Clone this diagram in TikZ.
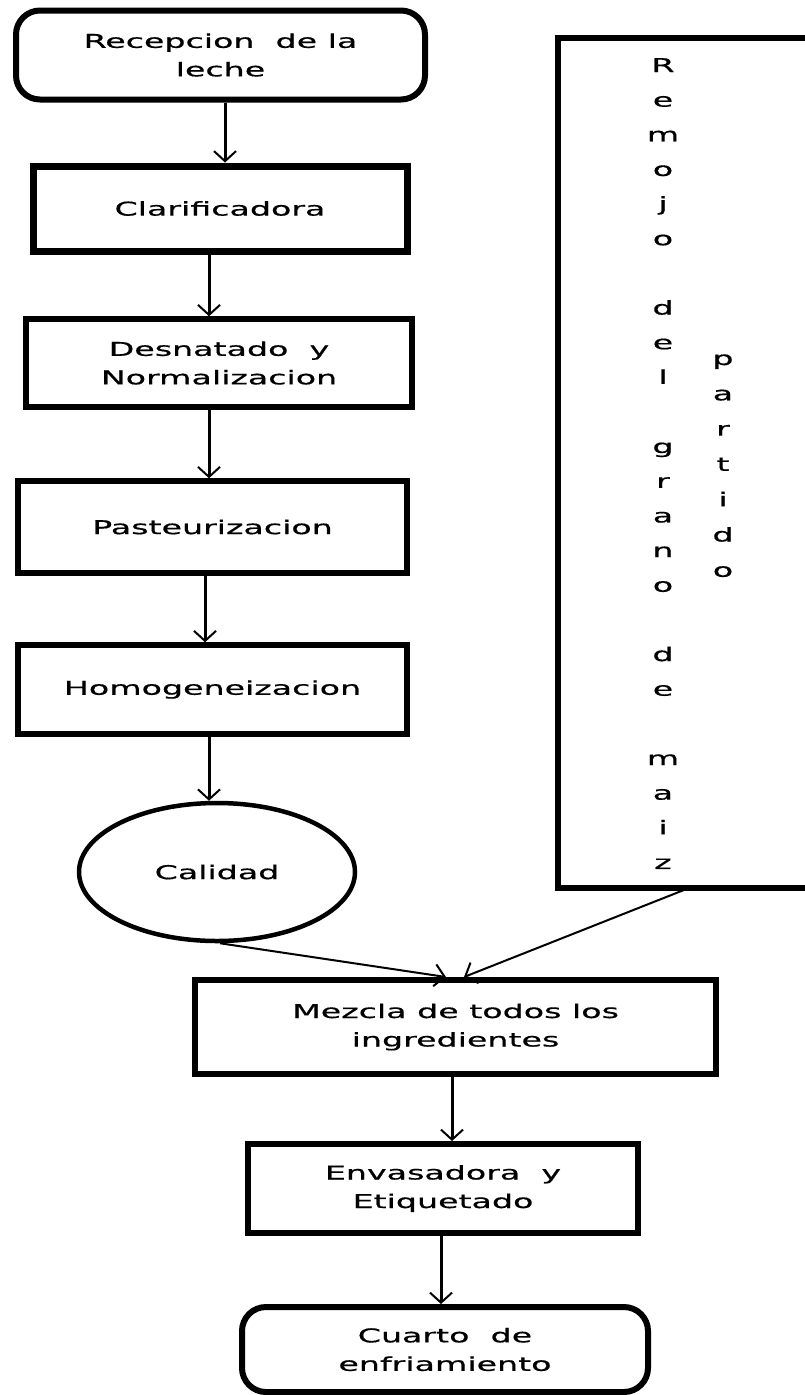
\documentclass[tikz,border=0pt]{standalone}
\usepackage{fontspec}
\setmainfont{DejaVu Sans}[FakeStretch=1.75,FakeBold=0.6]
\usetikzlibrary{arrows.meta,shapes.geometric,calc}
\begin{document}
\begin{tikzpicture}[x=1pt,y=-1pt,
  every node/.style={font=\fontsize{19}{28.5}\selectfont, align=center, inner sep=0pt},
  proc/.style={draw, rectangle, line width=#1},
  term/.style={draw, rectangle, rounded corners=24pt, line width=#1},
  flow/.style={line width=3pt, -{Straight Barb[length=10pt,width=22pt,line width=2pt]}}]
\fill[white] (0,0) rectangle (804,1395);
\useasboundingbox (0,0) rectangle (804,1395);

\node[term=6pt, minimum width=409pt, minimum height=89pt] (rec) at (220.5,55) {Recepcion\ \ de la\\leche};
\node[proc=7pt, minimum width=374pt, minimum height=85pt] (cla) at (220,208.5) {Clarificadora};
\node[proc=5.5pt, minimum width=386pt, minimum height=88pt] (des) at (219,363) {Desnatado\ \ y\\Normalizacion};
\node[proc=5.5pt, minimum width=389pt, minimum height=92pt] (pas) at (212.5,527) {Pasteurizacion};
\node[proc=5.5pt, minimum width=389pt, minimum height=89pt] (hom) at (212.5,689.5) {Homogeneizacion};
\node[draw, ellipse, line width=4.5pt, minimum width=276pt, minimum height=138pt] (cal) at (217,872) {Calidad};
\node[proc=6pt, minimum width=521pt, minimum height=94pt] (mez) at (455.5,1027) {Mezcla de todos los\\ingredientes};
\node[proc=6pt, minimum width=390pt, minimum height=89pt] (env) at (443,1188.5) {Envasadora\ \ y\\Etiquetado};
\node[term=6pt, minimum width=406pt, minimum height=85pt] (cua) at (445,1349.5) {Cuarto\ \ de\\enfriamiento};

% tall box on the right (right side beyond the picture)
\draw[line width=6pt] (812,38) -- (558,38) -- (558,888) -- (812,888);
\coordinate (remout) at (689,888);
\foreach \c/\i in {R/0,e/1,m/2,o/3,j/4,o/5,d/7,e/8,l/9,g/11,r/12,a/13,n/14,o/15,d/17,e/18,m/20,a/21,i/22,z/23}
  \node[anchor=base] (ra\i) at (663,{72+34.65*\i}) {\c};
\foreach \c/\i in {p/0,a/1,r/2,t/3,i/4,d/5,o/6}
  \node[anchor=base] (pa\i) at (723,{365+35.3*\i}) {\c};

\draw[flow] ([xshift=4.5pt]rec.south) -- ([xshift=5pt]cla.north);
\draw[flow] ([xshift=-11pt]cla.south) -- ([xshift=-10pt]des.north);
\draw[flow] ([xshift=-10pt]des.south) -- ([xshift=-3.5pt]pas.north);
\draw[flow] ([xshift=-7.5pt]pas.south) -- ([xshift=-7.5pt]hom.north);
\draw[flow] ([xshift=-3.5pt]hom.south) -- ([xshift=-8pt]cal.north);
\draw[flow, line width=2pt] ([xshift=3pt]cal.south) -- ([xshift=-9.5pt]mez.north);
\draw[flow, line width=2pt] (remout) -- ([xshift=8.5pt]mez.north);
\draw[flow] ([xshift=-3.5pt]mez.south) -- ([xshift=9pt]env.north);
\draw[flow] ([xshift=-2pt]env.south) -- ([xshift=-4pt]cua.north);
\end{tikzpicture}
\end{document}
